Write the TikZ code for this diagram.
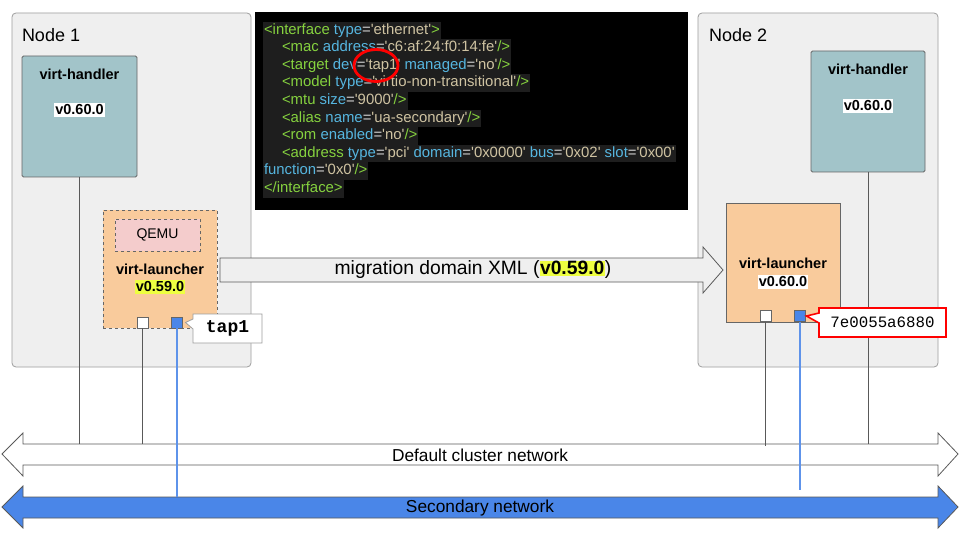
\documentclass[tikz,border=0pt]{standalone}
\usepackage{fontspec}
\setmainfont{Liberation Sans}
\newfontfamily\xmlfont{Liberation Sans}[Ligatures=TeXOff]
\newfontfamily\mymono{Liberation Mono}
\usetikzlibrary{shapes.callouts}
\definecolor{nodebg}{HTML}{EFEFEF}
\definecolor{nodeline}{HTML}{9E9E9E}
\definecolor{boxline}{HTML}{666666}
\definecolor{handler}{HTML}{A2C4C9}
\definecolor{launcher}{HTML}{F9CB9C}
\definecolor{qemu}{HTML}{F4CCCC}
\definecolor{portblue}{HTML}{4A86E8}
\definecolor{linkblue}{HTML}{5E93EA}
\definecolor{hly}{HTML}{EEFF41}
\definecolor{codebg}{HTML}{1E1E1E}
\definecolor{xgreen}{HTML}{86D23F}
\definecolor{xblue}{HTML}{56B6E0}
\definecolor{xstr}{HTML}{CFC3A2}
\definecolor{xeq}{HTML}{D4D4D4}
\definecolor{netline}{HTML}{595959}
\newcommand\xg[1]{\textcolor{xgreen}{#1}}
\newcommand\xb[1]{\textcolor{xblue}{#1}}
\newcommand\xe[1]{\textcolor{xeq}{#1}}
\newcommand\xs[1]{\textcolor{xstr}{#1}}
\newcommand\ind{\hspace*{18pt}}
\begin{document}
\begin{tikzpicture}[x=1pt,y=-1pt,
  every node/.style={inner sep=0pt, outer sep=0pt},
  hostbox/.style={draw=nodeline, fill=nodebg, rounded corners=4pt, line width=0.8pt},
  handlerbox/.style={draw=boxline, fill=handler, rounded corners=1.5pt, line width=0.8pt},
  launchbox/.style={draw=boxline, fill=launcher, line width=0.8pt},
  qemubox/.style={draw=boxline, fill=qemu, dashed, line width=0.8pt},
  portw/.style={draw=boxline, fill=white, minimum size=11pt, line width=0.7pt},
  portb/.style={draw=boxline, fill=portblue, minimum size=11pt, line width=0.7pt},
  hosttitle/.style={anchor=west, font=\fontsize{18}{21}\selectfont},
  boxtitle/.style={font=\fontsize{14.5}{17}\selectfont\bfseries},
  verwhite/.style={font=\fontsize{14.5}{17}\selectfont\bfseries, fill=white, inner xsep=1pt, inner ysep=1.5pt},
  veryellow/.style={font=\fontsize{14.5}{17}\selectfont\bfseries, fill=hly, inner xsep=1pt, inner ysep=1.5pt},
  xmlline/.style={anchor=west, fill=codebg, inner xsep=1pt, font=\xmlfont\fontsize{14.9}{17.6}\selectfont},
  conn/.style={draw=netline, line width=0.7pt},
  bconn/.style={draw=linkblue, line width=1.6pt},
  netlabel/.style={font=\fontsize{17.3}{20}\selectfont},
  arrowshape/.style={draw=netline, line width=0.8pt, line join=miter}
]
\useasboundingbox (0,0) rectangle (960,540);
\fill[white] (0,0) rectangle (960,540);

% hosts
\node[hostbox, minimum width=239pt, minimum height=354pt] (host1) at (131.5,190) {};
\node[hostbox, minimum width=240pt, minimum height=354pt] (host2) at (818,190) {};
\node[hosttitle] (host1t) at (22,35) {Node 1};
\node[hosttitle] (host2t) at (709,35) {Node 2};

% code box
\node[fill=black, minimum width=433pt, minimum height=198pt] (code) at (471.5,111) {};
\node[xmlline] (x1) at (263,30.5) {\strut\xg{<interface} \xb{type}\xe{=}\xs{'ethernet'}\xg{>}};
\node[xmlline] (x2) at (263,48.1) {\strut\ind\xg{<mac} \xb{address}\xe{=}\xs{'c6:af:24:f0:14:fe'}\xg{/>}};
\node[xmlline] (x3) at (263,65.7) {\strut\ind\xg{<target} \xb{dev}\xe{=}\xs{'tap1'} \xb{managed}\xe{=}\xs{'no'}\xg{/>}};
\node[xmlline] (x4) at (263,83.3) {\strut\ind\xg{<model} \xb{type}\xe{=}\xs{'virtio-non-transitional'}\xg{/>}};
\node[xmlline] (x5) at (263,100.9) {\strut\ind\xg{<mtu} \xb{size}\xe{=}\xs{'9000'}\xg{/>}};
\node[xmlline] (x6) at (263,118.5) {\strut\ind\xg{<alias} \xb{name}\xe{=}\xs{'ua-secondary'}\xg{/>}};
\node[xmlline] (x7) at (263,136.1) {\strut\ind\xg{<rom} \xb{enabled}\xe{=}\xs{'no'}\xg{/>}};
\node[xmlline] (x8) at (263,153.7) {\strut\ind\xg{<address} \xb{type}\xe{=}\xs{'pci'} \xb{domain}\xe{=}\xs{'0x0000'} \xb{bus}\xe{=}\xs{'0x02'} \xb{slot}\xe{=}\xs{'0x00'}};
\node[xmlline] (x9) at (263,171.3) {\strut\xb{function}\xe{=}\xs{'0x0'}\xg{/>}};
\node[xmlline] (x10) at (263,188.9) {\strut\xg{</interface>}};
\draw[red, line width=2.8pt] (376,65.5) ellipse [x radius=22pt, y radius=16pt];

% node 1 contents
\node[handlerbox, minimum width=115pt, minimum height=121pt] (vh1) at (79.5,116.5) {};
\node[boxtitle] (vh1t) at (79.5,74) {virt-handler};
\node[verwhite] (vh1v) at (79.5,110) {v0.60.0};
\node[launchbox, dashed, minimum width=114pt, minimum height=118pt] (vl1) at (160,269) {};
\node[qemubox, minimum width=85pt, minimum height=32pt, font=\fontsize{14}{17}\selectfont] (qemu1) at (157.5,235) {QEMU};
\node[boxtitle] (vl1t) at (160,269) {virt-launcher};
\node[veryellow] (vl1v) at (160,287) {v0.59.0};
\node[portw] (p1w) at (142.5,322.5) {};
\node[portb] (p1b) at (177,322.5) {};

% node 2 contents
\node[handlerbox, minimum width=114pt, minimum height=121pt] (vh2) at (868,111.5) {};
\node[boxtitle] (vh2t) at (868,69) {virt-handler};
\node[verwhite] (vh2v) at (868,106) {v0.60.0};
\node[launchbox, minimum width=114pt, minimum height=119pt] (vl2) at (783,262.5) {};
\node[boxtitle] (vl2t) at (783,263) {virt-launcher};
\node[verwhite] (vl2v) at (783,282) {v0.60.0};
\node[portw] (p2w) at (765.5,316) {};
\node[portb] (p2b) at (800,316) {};

% migration arrow
\draw[arrowshape, fill=nodebg] (220,258) -- (703,258) -- (703,247) -- (723,270) -- (703,293) -- (703,282) -- (220,282) -- cycle;
\node[font=\fontsize{19.3}{22}\selectfont] (mig) at (473,270) {migration domain XML ({\setlength{\fboxsep}{0.5pt}\colorbox{hly}{\bfseries v0.59.0}})};

% networks
\draw[arrowshape, fill=white] (2,454) -- (23,433) -- (23,444) -- (938,444) -- (938,433) -- (958,454) -- (938,476) -- (938,465) -- (23,465) -- (23,476) -- cycle;
\node[netlabel] (defnet) at (480,455) {Default cluster network};
\draw[arrowshape, fill=portblue] (2,507) -- (23,486) -- (23,497) -- (938,497) -- (938,486) -- (958,507) -- (938,528) -- (938,518) -- (23,518) -- (23,528) -- cycle;
\node[netlabel] (secnet) at (480,508) {Secondary network};
\coordinate (deftop) at (0,444);
\coordinate (deftopb) at (0,446);
\coordinate (sectop) at (0,497);
\coordinate (secend) at (0,490);

% connectors
\draw[conn] (vh1.south) -- (vh1.south |- deftop);
\draw[conn] (p1w.south) -- (p1w.south |- deftop);
\draw[bconn] (p1b.south) -- (p1b.south |- sectop);
\draw[conn] (vh2.south) -- (vh2.south |- deftop);
\draw[conn] (p2w.south) -- (p2w.south |- deftopb);
\draw[bconn] (p2b.south) -- (p2b.south |- secend);

% callouts
\coordinate (t1tip) at ([xshift=3pt]p1b.east);
\coordinate (t2tip) at ([xshift=1pt]p2b.east);
\node[rectangle callout, draw=nodeline, fill=white, line width=0.8pt, minimum width=69pt, minimum height=29pt, callout absolute pointer={(t1tip)}, callout pointer width=10pt, font=\mymono\bfseries\fontsize{18}{20}\selectfont] (tap) at (227.5,328.5) {tap1};
\node[rectangle callout, draw=red, fill=white, line width=1.6pt, minimum width=127pt, minimum height=29pt, callout absolute pointer={(t2tip)}, callout pointer width=10pt, font=\mymono\fontsize{15.8}{18}\selectfont] (mac) at (882.5,322.5) {7e0055a6880};
\end{tikzpicture}
\end{document}
